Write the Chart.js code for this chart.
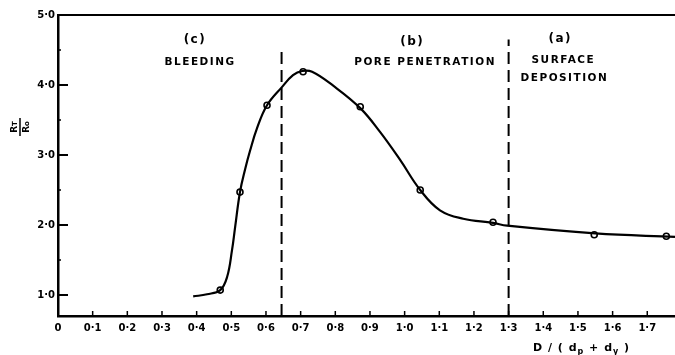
<!DOCTYPE html>
<html>
<head>
<meta charset="utf-8">
<script src="https://cdn.jsdelivr.net/npm/chart.js@4/dist/chart.umd.min.js"></script>
<style>
html,body{margin:0;padding:0;background:#fff;}
#wrap{width:675px;height:355px;position:relative;}
</style>
</head>
<body>
<div id="wrap"><canvas id="c" width="675" height="355"></canvas></div>
<script>
// ---- data ----
const curveX = [0.39, 0.43, 0.468, 0.488, 0.502, 0.511, 0.525, 0.540, 0.554, 0.574, 0.603, 0.646, 0.678, 0.704, 0.733, 0.794, 0.872, 0.929, 0.987, 1.045, 1.102, 1.169, 1.255, 1.296, 1.55, 1.78];
const curveY = [0.98, 1.01, 1.07, 1.26, 1.64, 1.97, 2.47, 2.80, 3.06, 3.38, 3.71, 3.97, 4.14, 4.20, 4.19, 3.99, 3.67, 3.33, 2.93, 2.50, 2.21, 2.09, 2.03, 1.99, 1.88, 1.83];
const pointX = [0.468, 0.525, 0.603, 0.707, 0.872, 1.045, 1.255, 1.547, 1.755];
const pointY = [1.07, 2.47, 3.71, 4.19, 3.69, 2.50, 2.04, 1.86, 1.84];
const boundaryX = [0.645, 1.30];
const boundaryTop = [4.53, 4.65];
const xTicks = [0,0.1,0.2,0.3,0.4,0.5,0.6,0.7,0.8,0.9,1.0,1.1,1.2,1.3,1.4,1.5,1.6,1.7];
const yTicks = [1,2,3,4,5];
const yMinor = [1.5,2.5,3.5,4.5];
const regionLabels = [
  {x:0.395, y:4.65, text:'(c)', size:12},
  {x:0.41, y:4.33, text:'BLEEDING', size:10.5},
  {x:1.022, y:4.62, text:'(b)', size:12},
  {x:1.059, y:4.33, text:'PORE PENETRATION', size:10.5},
  {x:1.449, y:4.66, text:'(a)', size:12},
  {x:1.458, y:4.35, text:'SURFACE', size:10.5},
  {x:1.461, y:4.09, text:'DEPOSITION', size:10.5}
];
const X_MIN = 0, X_MAX = 1.78, Y_MIN = 0.7, Y_MAX = 5.0;

const fmt = v => v === 0 ? '0' : v.toFixed(1).replace('.', '\u00B7');

const annot = {
  id: 'annot',
  afterDraw(chart) {
    const ctx = chart.ctx, ca = chart.chartArea;
    const xs = chart.scales.x, ys = chart.scales.y;
    ctx.save();
    ctx.strokeStyle = '#000';
    ctx.fillStyle = '#000';
    // top frame line
    ctx.lineWidth = 2;
    ctx.beginPath(); ctx.moveTo(ca.left, ca.top); ctx.lineTo(ca.right, ca.top); ctx.stroke();
    // inward ticks on x
    ctx.lineWidth = 1.5;
    xTicks.forEach(v => {
      if (v === 0) return;
      const px = xs.getPixelForValue(v);
      ctx.beginPath(); ctx.moveTo(px, ca.bottom); ctx.lineTo(px, ca.bottom - 5); ctx.stroke();
    });
    // inward ticks on y
    ctx.lineWidth = 2;
    yTicks.forEach(v => {
      const py = ys.getPixelForValue(v);
      ctx.beginPath(); ctx.moveTo(ca.left, py); ctx.lineTo(ca.left + 10, py); ctx.stroke();
    });
    ctx.lineWidth = 1.5;
    yMinor.forEach(v => {
      const py = ys.getPixelForValue(v);
      ctx.beginPath(); ctx.moveTo(ca.left, py); ctx.lineTo(ca.left + 3, py); ctx.stroke();
    });
    // region labels
    ctx.textAlign = 'center';
    ctx.textBaseline = 'middle';
    try { ctx.letterSpacing = '1.5px'; } catch(e) {}
    regionLabels.forEach(l => {
      ctx.font = 'bold ' + l.size + 'px "DejaVu Sans"';
      ctx.fillText(l.text, xs.getPixelForValue(l.x), ys.getPixelForValue(l.y));
    });
    try { ctx.letterSpacing = '0px'; } catch(e) {}
    // x-axis title: D / ( d_p + d_y )
    ctx.textAlign = 'left';
    ctx.textBaseline = 'alphabetic';
    let tx = 533; const ty = 351;
    const parts = [
      ['D / ( d', 0, 'bold 11px "DejaVu Sans"'],
      ['p', 3, 'bold 8px "DejaVu Sans"'],
      [' + d', 0, 'bold 11px "DejaVu Sans"'],
      ['y', 3, 'bold 8px "DejaVu Sans"'],
      [' )', 0, 'bold 11px "DejaVu Sans"']
    ];
    try { ctx.letterSpacing = '1px'; } catch(e) {}
    parts.forEach(p => {
      ctx.font = p[2];
      ctx.fillText(p[0], tx, ty + p[1]);
      tx += ctx.measureText(p[0]).width;
    });
    try { ctx.letterSpacing = '0px'; } catch(e) {}
    // y-axis title: R_T / R_o (rotated)
    ctx.translate(20, 127);
    ctx.rotate(-Math.PI / 2);
    ctx.textAlign = 'left';
    const drawFrac = (main, sub, yy) => {
      ctx.font = 'bold 9px "DejaVu Sans"';
      const w1 = ctx.measureText(main).width;
      ctx.font = 'bold 7px "DejaVu Sans"';
      const w2 = ctx.measureText(sub).width;
      const start = -(w1 + w2) / 2;
      ctx.font = 'bold 9px "DejaVu Sans"';
      ctx.fillText(main, start, yy);
      ctx.font = 'bold 7px "DejaVu Sans"';
      ctx.fillText(sub, start + w1, yy);
    };
    drawFrac('R', 'T', -3);
    ctx.lineWidth = 1.5;
    ctx.beginPath(); ctx.moveTo(-9, 0); ctx.lineTo(9, 0); ctx.stroke();
    drawFrac('R', 'o', 9);
    ctx.restore();
  }
};

const curveData = curveX.map((x, i) => ({x, y: curveY[i]}));
const pointData = pointX.map((x, i) => ({x, y: pointY[i]}));
const dashSets = boundaryX.map((bx, i) => ({
  type: 'line',
  data: [{x: bx, y: Y_MIN}, {x: bx, y: boundaryTop[i]}],
  borderColor: '#000', borderWidth: 2, borderDash: [12, 6],
  pointRadius: 0, fill: false, tension: 0
}));

new Chart(document.getElementById('c'), {
  type: 'scatter',
  data: {
    datasets: [
      { type: 'line', data: curveData, borderColor: '#000', borderWidth: 2.2,
        pointRadius: 0, fill: false, tension: 0.4 },
      { type: 'scatter', data: pointData, pointRadius: 3, pointBorderWidth: 1.6,
        pointBorderColor: '#000', pointBackgroundColor: '#fff' },
      ...dashSets
    ]
  },
  options: {
    responsive: false,
    animation: false,
    devicePixelRatio: 1,
    layout: { autoPadding: false, padding: { left: 0, right: 0, top: 15, bottom: 0 } },
    plugins: { legend: { display: false }, tooltip: { enabled: false } },
    scales: {
      x: {
        type: 'linear', min: X_MIN, max: X_MAX,
        afterBuildTicks: s => { s.ticks = xTicks.map(v => ({value: v})); },
        afterFit: s => { s.height = 39; s.paddingLeft = 0; s.paddingRight = 0; },
        ticks: { callback: v => fmt(v), font: { family: 'DejaVu Sans', size: 10, weight: 'bold' },
                 color: '#000', padding: 6, maxRotation: 0, autoSkip: false },
        grid: { drawOnChartArea: false, drawTicks: false },
        border: { display: true, color: '#000', width: 2.5 }
      },
      y: {
        type: 'linear', min: Y_MIN, max: Y_MAX,
        afterBuildTicks: s => { s.ticks = yTicks.map(v => ({value: v})); },
        afterFit: s => { s.width = 58; s.paddingTop = 0; s.paddingBottom = 0; },
        ticks: { callback: v => fmt(v), font: { family: 'DejaVu Sans', size: 10, weight: 'bold' },
                 color: '#000', padding: 3 },
        grid: { drawOnChartArea: false, drawTicks: false },
        border: { display: true, color: '#000', width: 2.5 }
      }
    }
  },
  plugins: [annot]
});
</script>
</body>
</html>
